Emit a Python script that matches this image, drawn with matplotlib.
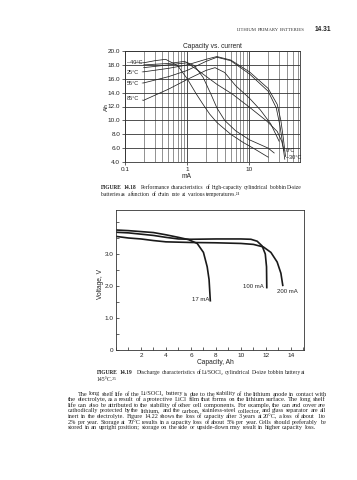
import matplotlib
matplotlib.use("Agg")
import matplotlib.pyplot as plt
from matplotlib.ticker import FixedLocator, NullFormatter, MultipleLocator

W, H = 357, 480
SERIF = ['Liberation Serif', 'DejaVu Serif']
SANS = ['Liberation Sans', 'DejaVu Sans']

# ---------------- data: top chart (capacity vs current) ----------------
cur_m40 = [0.2, 0.3, 0.45, 0.7, 1.0, 1.4, 1.8, 2.3, 3, 5, 8, 12, 20]
cap_m40 = [18.3, 18.6, 18.8, 17.9, 16.0, 13.8, 12.3, 10.9, 9.7, 8.0, 6.8, 5.9, 4.7]
cur_b = [0.2, 0.5, 0.9, 1.3, 1.8, 2.4, 3, 4, 6, 10, 15, 20, 25]
cap_b = [18.0, 18.2, 18.5, 17.9, 16.2, 13.8, 11.8, 10.0, 8.5, 7.2, 6.5, 6.0, 5.3]
cur_c = [0.2, 0.5, 1, 1.6, 3, 5.3, 10, 19, 28, 33, 36]
cap_c = [17.6, 18.0, 18.3, 17.0, 15.2, 13.8, 11.9, 9.9, 8.4, 7.0, 5.6]
cur_25 = [0.2, 0.5, 1, 2, 3, 5, 10, 20, 28, 32, 35, 38]
cap_25 = [17.0, 17.5, 18.0, 18.8, 19.2, 18.7, 17.0, 14.6, 12.3, 10.0, 7.5, 4.8]
cur_55 = [0.2, 0.5, 1, 2, 3, 5, 10, 20, 27, 31, 34, 37]
cap_55 = [15.4, 16.3, 17.2, 18.5, 19.1, 18.6, 16.7, 14.2, 11.8, 9.2, 6.8, 4.4]
cur_85 = [0.2, 0.5, 1, 2, 2.8, 4, 6, 10, 15, 22, 30]
cap_85 = [12.9, 14.5, 15.9, 17.2, 17.6, 16.9, 15.0, 13.2, 11.5, 9.5, 7.0]
top_series = [(cur_m40, cap_m40), (cur_b, cap_b), (cur_c, cap_c),
              (cur_25, cap_25), (cur_55, cap_55), (cur_85, cap_85)]
left_labels = ['\u201340\u00b0C', '25\u00b0C', '55\u00b0C', '85\u00b0C']
left_label_y = [18.3, 16.9, 15.3, 13.1]
left_label_target = [18.3, 17.0, 15.4, 12.9]
right_labels = ['0\u00b0C', '\u201330\u00b0C']
right_label_y = [5.6, 4.7]
top_xticks = [0.1, 1, 10]
top_xticklabels = ['0.1', '1', '10']
top_yticks = [4, 6, 8, 10, 12, 14, 16, 18, 20]

# ---------------- data: bottom chart (voltage vs capacity) ----------------
cap_17 = [0, 1, 2, 3, 4, 5, 5.8, 6.5, 7.0, 7.3, 7.45, 7.55]
v_17 = [3.75, 3.73, 3.70, 3.67, 3.60, 3.52, 3.45, 3.33, 3.05, 2.6, 2.2, 1.54]
cap_100 = [0, 1, 2, 3, 4, 5, 6, 8, 10, 10.8, 11.3, 11.7, 11.95, 12.05, 12.07]
v_100 = [3.68, 3.66, 3.62, 3.58, 3.52, 3.47, 3.46, 3.47, 3.47, 3.46, 3.40, 3.25, 3.0, 2.6, 1.95]
cap_200 = [0, 1, 2, 3, 4, 6, 8, 10, 11, 11.8, 12.4, 12.9, 13.2, 13.35]
v_200 = [3.55, 3.50, 3.47, 3.42, 3.38, 3.36, 3.35, 3.33, 3.30, 3.22, 3.05, 2.75, 2.4, 2.02]
bot_labels = ['17 mA', '100 mA', '200 mA']
bot_xticks = [2, 4, 6, 8, 10, 12, 14]
bot_yticks = [0, 1, 2, 3]
bot_yticklabels = ['0', '1.0', '2.0', '3.0']

header_left = 'LITHIUM PRIMARY BATTERIES'
header_right = '14.31'
cap1_label = 'FIGURE 14.18'
cap1_lines = ['Performance characteristics of high-capacity cylindrical bobbin D-size',
              'batteries as a function of drain rate at various temperatures.\u00b2\u2074']
cap2_label = 'FIGURE 14.19'
cap2_lines = ['Discharge characteristics of Li/SOCl\u2082 cylindrical D-size bobbin battery at',
              '145\u00b0C.\u00b2\u2075']
body_lines = [
    'The long shelf life of the Li/SOCl\u2082 battery is due to the stability of the lithium anode in contact with',
    'the electrolyte, as a result of a protective LiCl film that forms on the lithium surface. The long shelf',
    'life can also be attributed to the stability of other cell components. For example, the can and cover are',
    'cathodically protected by the lithium, and the carbon, stainless-steel collector, and glass separator are all',
    'inert in the electrolyte. Figure 14.22 shows the loss of capacity after 3 years at 20\u00b0C, a loss of about 1 to',
    '2% per year. Storage at 70\u00b0C results in a capacity loss of about 5% per year. Cells should preferably be',
    'stored in an upright position; storage on the side or upside-down may result in higher capacity loss.',
]

fig = plt.figure(figsize=(W / 100, H / 100), dpi=100)
fig.patch.set_facecolor('white')
renderer = fig.canvas.get_renderer()


def fx(px):
    return px / W


def fy(py):
    return 1 - py / H


def text_width(s, size, weight='normal', family=SERIF):
    t = fig.text(0, 0, s, fontsize=size, family=family, weight=weight)
    w = t.get_window_extent(renderer).width
    t.remove()
    return w


def fitted_size(s, width, ref=4.0):
    return ref * width / text_width(s, ref)


def words_at_pixels(s, x0, y, size, x1=None, weight='normal', color='#222222'):
    """Draw a line word by word on whole-pixel positions; spread gaps evenly."""
    words = s.split(' ')
    ws = [int(round(text_width(w, size, weight))) for w in words]
    n = len(words) - 1
    x0 = int(round(x0))
    if x1 is not None and n > 0:
        G = int(round(x1)) - x0 - sum(ws)
    else:
        G = int(round(n * 0.25 * size * 100 / 72))
    x = x0
    for i, (w, wd) in enumerate(zip(words, ws)):
        fig.text((x + 0.01) / W, fy(y), w, fontsize=size, family=SERIF,
                 weight=weight, va='baseline', ha='left', color=color)
        if i < n:
            gap = int(round((i + 1) * G / n)) - int(round(i * G / n))
            x += wd + gap
    return x


def caption(label, lines, x0, x1, y, dy, size_label=4.0):
    words_at_pixels(label, x0, y, size_label, weight='bold')
    lw = text_width(label, size_label, 'bold') + 5
    s1 = fitted_size(lines[0], x1 - x0 - lw)
    words_at_pixels(lines[0], x0 + lw, y, s1, x1=x1)
    words_at_pixels(lines[1], x0, y + dy, s1)


# ---------------- header ----------------
hw = text_width(header_left, 3.4)
words_at_pixels(header_left, 305 - hw, 31, 3.4, x1=305, color='#333333')
fig.text(fx(331), fy(31), header_right, fontsize=4.8, family=SANS, weight='bold',
         ha='right', va='baseline', color='#222222')

# ---------------- top chart ----------------
ax1 = fig.add_axes([fx(125), fy(162), (300 - 125) / W, (162 - 51) / H])
for xs, ys in top_series:
    ax1.plot(xs, ys, color='#222222', lw=0.55)
ax1.set_xscale('log')
ax1.set_xlim(0.1, 65)
ax1.set_ylim(4, 20)
ax1.xaxis.set_major_locator(FixedLocator(top_xticks))
ax1.set_xticklabels(top_xticklabels)
ax1.xaxis.set_minor_locator(FixedLocator([m * d for d in (0.1, 1, 10) for m in range(2, 10) if m * d < 65]))
ax1.xaxis.set_minor_formatter(NullFormatter())
ax1.set_yticks(top_yticks)
ax1.set_yticklabels(['%.1f' % v for v in top_yticks])
ax1.grid(which='major', color='#333333', lw=0.6)
ax1.grid(which='minor', axis='x', color='#555555', lw=0.45)
ax1.tick_params(which='major', length=2, width=0.5, labelsize=4.6, pad=1.5, colors='#222222')
ax1.tick_params(which='minor', length=0)
for s in ax1.spines.values():
    s.set_linewidth(0.6)
    s.set_color('#333333')
for lab in ax1.get_xticklabels() + ax1.get_yticklabels():
    lab.set_family(SANS)
for lab, yt, ytg in zip(left_labels, left_label_y, left_label_target):
    ax1.annotate(lab, xy=(0.2, ytg), xytext=(0.108, yt), fontsize=4.0, family=SANS,
                 va='center', ha='left', color='#222222',
                 arrowprops=dict(arrowstyle='-', lw=0.4, color='#222222',
                                 shrinkA=0, shrinkB=0))
for lab, yt in zip(right_labels, right_label_y):
    ax1.text(39, yt, lab, fontsize=4.0, family=SANS, va='center', ha='left',
             color='#222222')
fig.text(fx(212), fy(48), 'Capacity vs. current', fontsize=4.8, family=SANS,
         ha='center', va='baseline', color='#222222')
fig.text(fx(106), fy(107), 'Ah', fontsize=4.6, family=SANS, rotation=90,
         ha='center', va='center', color='#222222')
fig.text(fx(187), fy(177), 'mA', fontsize=4.8, family=SANS, ha='center',
         va='center', color='#222222')

caption(cap1_label, cap1_lines, 101, 302, 189, 7)

# ---------------- bottom chart ----------------
ax2 = fig.add_axes([fx(116), fy(350), (304 - 116) / W, (350 - 210) / H])
ax2.plot(cap_17, v_17, color='#1a1a1a', lw=1.2)
ax2.plot(cap_100, v_100, color='#1a1a1a', lw=1.2)
ax2.plot(cap_200, v_200, color='#1a1a1a', lw=1.2)
ax2.set_xlim(0, 15.05)
ax2.set_ylim(0, 4.375)
ax2.set_xticks(bot_xticks)
ax2.xaxis.set_minor_locator(MultipleLocator(1))
ax2.set_yticks(bot_yticks)
ax2.set_yticklabels(bot_yticklabels)
ax2.yaxis.set_minor_locator(MultipleLocator(0.5))
ax2.tick_params(which='both', direction='in', width=0.5, colors='#222222')
ax2.tick_params(which='major', length=2.5, labelsize=4.6, pad=2)
ax2.tick_params(which='minor', length=2.0)
for s in ax2.spines.values():
    s.set_linewidth(0.6)
    s.set_color('#333333')
for lab in ax2.get_xticklabels() + ax2.get_yticklabels():
    lab.set_family(SANS)
ax2.text(7.45, 1.57, bot_labels[0], fontsize=4.3, family=SANS, ha='right',
         va='center', color='#222222')
ax2.text(11.85, 2.0, bot_labels[1], fontsize=4.3, family=SANS, ha='right',
         va='center', color='#222222')
ax2.text(12.9, 1.83, bot_labels[2], fontsize=4.3, family=SANS, ha='left',
         va='center', color='#222222')
fig.text(fx(100), fy(284), 'Voltage, V', fontsize=4.8, family=SANS, rotation=90,
         ha='center', va='center', color='#222222')
fig.text(fx(215), fy(362), 'Capacity, Ah', fontsize=4.8, family=SANS,
         ha='center', va='center', color='#222222')

caption(cap2_label, cap2_lines, 97, 305, 374, 7)

# ---------------- body text ----------------
x0s = [78] + [68] * (len(body_lines) - 1)
sizes = [fitted_size(line, 326 - x0) for line, x0 in zip(body_lines[:-1], x0s[:-1])]
sizes.append(sorted(sizes)[len(sizes) // 2])
y0 = 395.5
for i, line in enumerate(body_lines):
    last = i == len(body_lines) - 1
    words_at_pixels(line, x0s[i], y0 + i * 5.65, sizes[i], x1=None if last else 326)

fig.savefig('out.png', dpi=100, facecolor='white')
